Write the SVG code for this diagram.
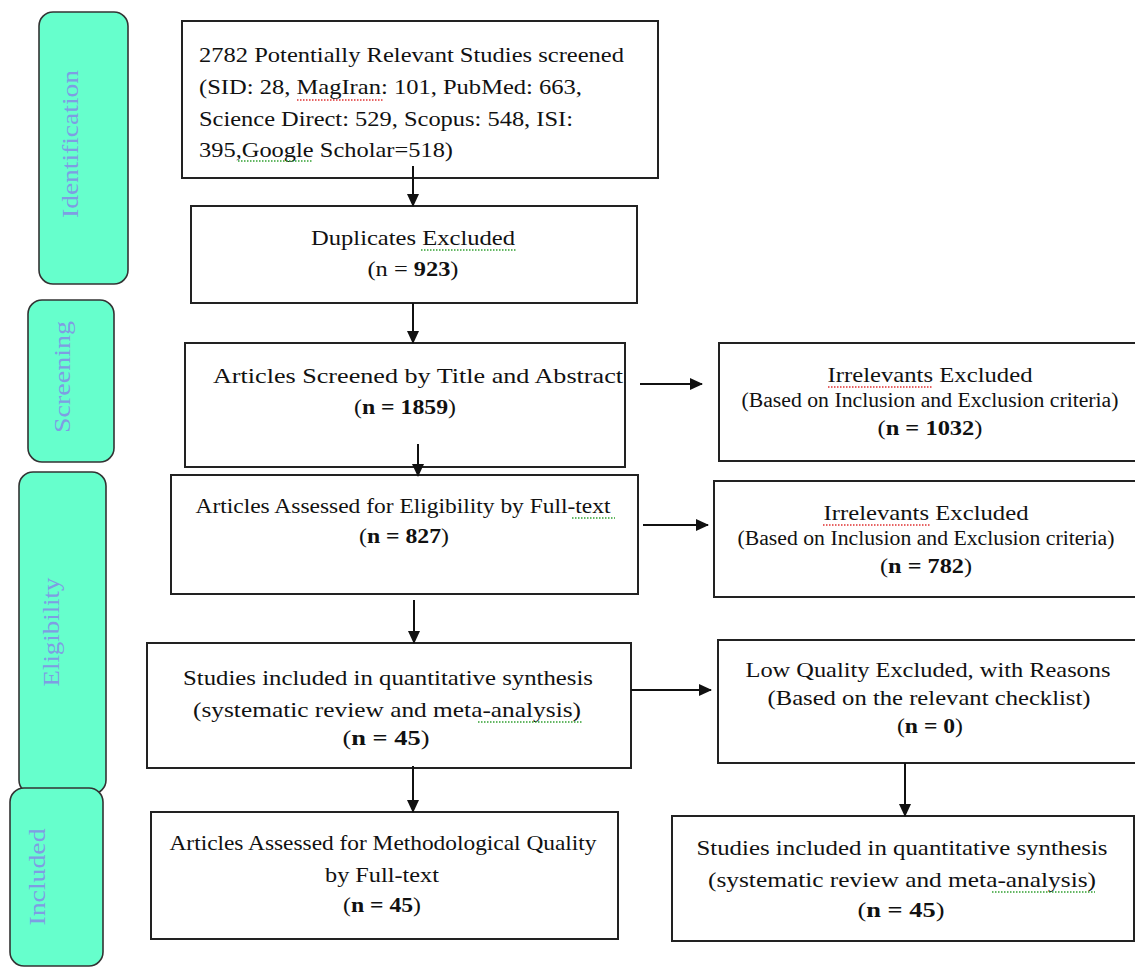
<svg xmlns="http://www.w3.org/2000/svg" width="1135" height="968" viewBox="0 0 1135 968">
<style>
.box{fill:#fff;stroke:#222;stroke-width:2}
.stage{fill:#66ffcc;stroke:#333;stroke-width:1.6}
.t{font-family:"Liberation Serif","Times New Roman",serif;font-size:22px;fill:#111}
.s{font-family:"Liberation Serif","Times New Roman",serif;font-size:20px;fill:#111}
.b{font-weight:bold}
.st{font-family:"Liberation Serif","Times New Roman",serif;font-size:24px;fill:#7f9de3}
.c{stroke:#111;stroke-width:2;fill:none;marker-end:url(#ah)}
.sq{stroke-width:1.5;stroke-dasharray:1.5 1.5;fill:none}
.red{stroke:#e03030}
.grn{stroke:#30a030}
</style>
<defs>
<marker id="ah" markerWidth="14" markerHeight="14" refX="12" refY="6" orient="auto" markerUnits="userSpaceOnUse">
<path d="M0,0 L13,6 L0,12 z" fill="#111"/>
</marker>
</defs>
<rect width="1135" height="968" fill="#fff"/>

<g id="stage-identification">
<rect class="stage" x="39" y="12" width="89" height="272" rx="14"/>
<text class="st" transform="translate(78,144) rotate(-90)" text-anchor="middle" textLength="148" lengthAdjust="spacingAndGlyphs">Identification</text>
</g>
<g id="stage-screening">
<rect class="stage" x="28" y="300" width="86" height="162" rx="14"/>
<text class="st" transform="translate(70,377) rotate(-90)" text-anchor="middle" textLength="112" lengthAdjust="spacingAndGlyphs">Screening</text>
</g>
<g id="stage-eligibility">
<rect class="stage" x="19" y="472" width="87" height="322" rx="14"/>
<text class="st" transform="translate(59,632) rotate(-90)" text-anchor="middle" textLength="109" lengthAdjust="spacingAndGlyphs">Eligibility</text>
</g>
<g id="stage-included">
<rect class="stage" x="10" y="788" width="93" height="178" rx="14"/>
<text class="st" transform="translate(45,877) rotate(-90)" text-anchor="middle" textLength="97" lengthAdjust="spacingAndGlyphs">Included</text>
</g>

<g id="n-identified">
<rect class="box" x="182" y="21" width="476" height="157"/>
<text class="t" x="199" y="62" textLength="425" lengthAdjust="spacingAndGlyphs">2782 Potentially Relevant Studies screened</text>
<text class="t" x="199" y="94" textLength="383" lengthAdjust="spacingAndGlyphs">(SID: 28, MagIran: 101, PubMed: 663,</text>
<text class="t" x="199" y="126" textLength="374" lengthAdjust="spacingAndGlyphs">Science Direct: 529, Scopus: 548, ISI:</text>
<text class="t" x="199" y="157" textLength="254" lengthAdjust="spacingAndGlyphs">395,Google Scholar=518)</text>
<path class="sq red" d="M297,100 H383"/>
<path class="sq grn" d="M238,161 H313"/>
</g>

<g id="n-duplicates">
<rect class="box" x="191" y="206" width="446" height="97"/>
<text class="t" x="413" y="245" text-anchor="middle" textLength="204" lengthAdjust="spacingAndGlyphs">Duplicates Excluded</text>
<text class="t" x="413" y="276" text-anchor="middle" textLength="91" lengthAdjust="spacingAndGlyphs">(n = <tspan class="b">923</tspan>)</text>
<path class="sq grn" d="M421,250 H517"/>
</g>

<g id="n-screened">
<rect class="box" x="185" y="343" width="440" height="124"/>
<text class="t" x="418" y="383" text-anchor="middle" textLength="410" lengthAdjust="spacingAndGlyphs">Articles Screened by Title and Abstract</text>
<text class="t" x="405" y="414" text-anchor="middle" textLength="102" lengthAdjust="spacingAndGlyphs">(<tspan class="b">n = 1859</tspan>)</text>
</g>

<g id="n-irrelevant1">
<rect class="box" x="719" y="343" width="421" height="118"/>
<text class="t" x="930" y="382" text-anchor="middle" textLength="205" lengthAdjust="spacingAndGlyphs">Irrelevants Excluded</text>
<text class="s" x="930" y="407" text-anchor="middle" textLength="377" lengthAdjust="spacingAndGlyphs">(Based on Inclusion and Exclusion criteria)</text>
<text class="t" x="930" y="435" text-anchor="middle" textLength="105" lengthAdjust="spacingAndGlyphs">(<tspan class="b">n = 1032</tspan>)</text>
<path class="sq red" d="M828,387 H933"/>
</g>

<g id="n-eligibility">
<rect class="box" x="171" y="475" width="467" height="119"/>
<text class="t" x="403" y="513" text-anchor="middle" textLength="415" lengthAdjust="spacingAndGlyphs">Articles Assessed for Eligibility by Full-text</text>
<text class="t" x="404" y="543" text-anchor="middle" textLength="90" lengthAdjust="spacingAndGlyphs">(<tspan class="b">n = 827</tspan>)</text>
<path class="sq grn" d="M572,518 H615"/>
</g>

<g id="n-irrelevant2">
<rect class="box" x="714" y="481" width="426" height="116"/>
<text class="t" x="926" y="520" text-anchor="middle" textLength="205" lengthAdjust="spacingAndGlyphs">Irrelevants Excluded</text>
<text class="s" x="926" y="545" text-anchor="middle" textLength="377" lengthAdjust="spacingAndGlyphs">(Based on Inclusion and Exclusion criteria)</text>
<text class="t" x="926" y="573" text-anchor="middle" textLength="92" lengthAdjust="spacingAndGlyphs">(<tspan class="b">n = 782</tspan>)</text>
<path class="sq red" d="M823,525 H930"/>
</g>

<g id="n-synthesis">
<rect class="box" x="147" y="643" width="484" height="125"/>
<text class="t" x="388" y="685" text-anchor="middle" textLength="410" lengthAdjust="spacingAndGlyphs">Studies included in quantitative synthesis</text>
<text class="t" x="387" y="717" text-anchor="middle" textLength="388" lengthAdjust="spacingAndGlyphs">(systematic review and meta-analysis)</text>
<text class="t" x="386" y="745" text-anchor="middle" textLength="87" lengthAdjust="spacingAndGlyphs">(<tspan class="b">n =   45</tspan>)</text>
<path class="sq grn" d="M478,722 H582"/>
</g>

<g id="n-lowquality">
<rect class="box" x="718" y="640" width="422" height="123"/>
<text class="t" x="928" y="677" text-anchor="middle" textLength="365" lengthAdjust="spacingAndGlyphs">Low Quality Excluded, with Reasons</text>
<text class="t" x="929" y="705" text-anchor="middle" textLength="323" lengthAdjust="spacingAndGlyphs">(Based on the relevant checklist)</text>
<text class="t" x="930" y="733" text-anchor="middle" textLength="66" lengthAdjust="spacingAndGlyphs">(<tspan class="b">n = 0</tspan>)</text>
</g>

<g id="n-methodological">
<rect class="box" x="151" y="812" width="467" height="127"/>
<text class="t" x="383" y="850" text-anchor="middle" textLength="427" lengthAdjust="spacingAndGlyphs">Articles Assessed for Methodological Quality</text>
<text class="t" x="382" y="882" text-anchor="middle" textLength="114" lengthAdjust="spacingAndGlyphs">by Full-text</text>
<text class="t" x="382" y="912" text-anchor="middle" textLength="78" lengthAdjust="spacingAndGlyphs">(<tspan class="b">n = 45</tspan>)</text>
</g>

<g id="n-included">
<rect class="box" x="672" y="816" width="462" height="125"/>
<text class="t" x="902" y="855" text-anchor="middle" textLength="411" lengthAdjust="spacingAndGlyphs">Studies included in quantitative synthesis</text>
<text class="t" x="902" y="887" text-anchor="middle" textLength="388" lengthAdjust="spacingAndGlyphs">(systematic review and meta-analysis)</text>
<text class="t" x="901" y="917" text-anchor="middle" textLength="87" lengthAdjust="spacingAndGlyphs">(<tspan class="b">n =   45</tspan>)</text>
<path class="sq grn" d="M992,892 H1095"/>
</g>

<g id="connectors">
<path class="c" d="M413,166 V206"/>
<path class="c" d="M413,303 V343"/>
<path class="c" d="M418,444 V476"/>
<path class="c" d="M414,600 V643"/>
<path class="c" d="M413,766 V812"/>
<path class="c" d="M640,384 H702"/>
<path class="c" d="M643,525 H708"/>
<path class="c" d="M631,690 H711"/>
<path class="c" d="M905,763 V816"/>
</g>
</svg>
